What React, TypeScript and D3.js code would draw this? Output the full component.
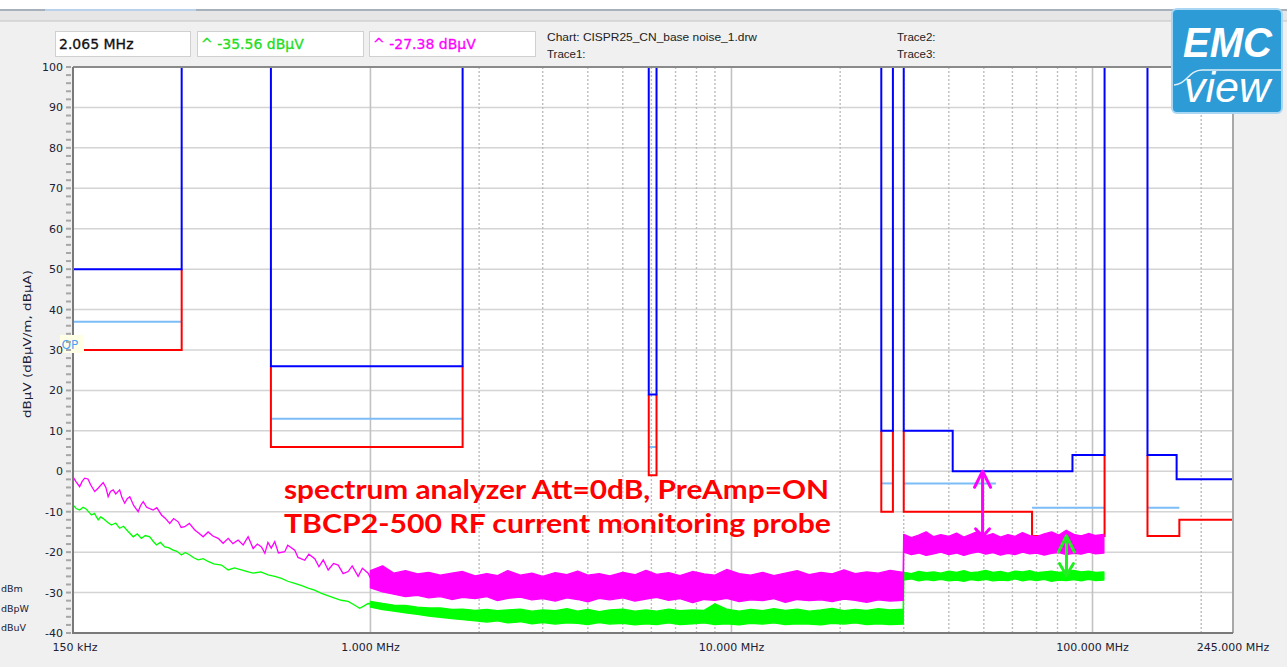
import React from "react";
import * as d3 from "d3";

// ---------------- data ----------------
const F_MIN = 0.15;
const F_MAX = 245;
const DB_MIN = -40;
const DB_MAX = 100;

const X_TICK_FREQS = [0.15, 1, 10, 100, 245];
const X_TICK_LABELS = ["150 kHz", "1.000 MHz", "10.000 MHz", "100.000 MHz", "245.000 MHz"];
const DECADE_FREQS = [1, 10, 100];
const MINOR_FREQS = [2, 3, 4, 5, 6, 7, 8, 9, 20, 30, 40, 50, 60, 70, 80, 90, 200];
const Y_TICKS = [100, 90, 80, 70, 60, 50, 40, 30, 20, 10, 0, -10, -20, -30, -40];
const UNIT_LABELS = ["dBm", "dBpW", "dBuV"];

type P = [number, number];
const PEAK_LIMIT: P[][] = [
  [[0.15, 50], [0.3, 50], [0.3, 100]],
  [[0.53, 100], [0.53, 26], [1.8, 26], [1.8, 100]],
  [[5.9, 100], [5.9, 19], [6.2, 19], [6.2, 100]],
  [[26, 100], [26, 10], [28, 10], [28, 100]],
  [[30, 100], [30, 10], [41, 10], [41, 0], [88, 0], [88, 4], [108, 4], [108, 100]],
  [[142, 100], [142, 4], [171, 4], [171, -2], [245, -2]],
];
const AVG_LIMIT: P[][] = [
  [[0.15, 30], [0.3, 30], [0.3, 50]],
  [[0.53, 26], [0.53, 6], [1.8, 6], [1.8, 26]],
  [[5.9, 19], [5.9, -1], [6.2, -1], [6.2, 19]],
  [[26, 10], [26, -10], [28, -10], [28, 10]],
  [[30, 10], [30, -10], [68, -10], [68, -16], [108, -16], [108, 4]],
  [[142, 4], [142, -16], [174, -16], [174, -12], [245, -12]],
];
const QP_LIMIT: P[][] = [
  [[0.15, 37], [0.3, 37]],
  [[0.53, 13], [1.8, 13]],
  [[5.9, 6], [6.2, 6]],
  [[26, -3], [28, -3]],
  [[30, -3], [54, -3]],
  [[68, -9], [108, -9]],
  [[142, -9], [174, -9]],
];

// low-frequency part of the traces (MHz, dBµV)
const MAG_LOW_F = [0.15, 0.153, 0.1565, 0.159, 0.1616, 0.165, 0.168, 0.1723, 0.176, 0.1818, 0.185, 0.1877, 0.1905, 0.1938, 0.197, 0.202, 0.205, 0.2086, 0.212, 0.2155, 0.221, 0.2273, 0.231, 0.2347, 0.24, 0.25, 0.256, 0.2637, 0.27, 0.278, 0.285, 0.2934, 0.299, 0.3059, 0.315, 0.3261, 0.335, 0.344, 0.3551, 0.366, 0.3786, 0.3908, 0.4035, 0.416, 0.43, 0.444, 0.4583, 0.4732, 0.486, 0.499, 0.51, 0.52, 0.531, 0.5431, 0.556, 0.5789, 0.59, 0.6171, 0.63, 0.6577, 0.675, 0.701, 0.72, 0.74, 0.7637, 0.79, 0.8139, 0.84, 0.8675, 0.89, 0.9245, 0.95, 0.9854, 1.01, 1.04];
const MAG_LOW_V = [-1.4, -2.6, -3.8, -2.5, -1.7, -1.9, -3.4, -5.0, -4.2, -2.8, -4.0, -6.3, -5.0, -4.6, -5.6, -4.6, -6.5, -7.9, -6.8, -6.3, -8.5, -10.0, -8.4, -7.5, -8.9, -9.6, -9.0, -10.8, -11.6, -12.9, -11.7, -12.5, -13.9, -13.7, -12.9, -14.5, -15.3, -16.2, -15.0, -16.0, -16.6, -17.8, -16.6, -17.9, -17.0, -18.2, -16.2, -19.1, -18.0, -18.7, -20.3, -17.6, -19.0, -17.4, -20.2, -19.9, -18.3, -19.5, -21.3, -22.0, -20.5, -21.6, -23.6, -21.9, -24.4, -22.8, -23.2, -25.3, -24.8, -23.4, -26.0, -24.0, -25.2, -27.2, -26.4];
const GRN_LOW_F = [0.15, 0.153, 0.1565, 0.16, 0.1634, 0.166, 0.1687, 0.172, 0.1761, 0.179, 0.1818, 0.187, 0.1917, 0.197, 0.202, 0.207, 0.2132, 0.2202, 0.226, 0.2321, 0.238, 0.2447, 0.25, 0.2554, 0.262, 0.2693, 0.276, 0.2841, 0.291, 0.2996, 0.307, 0.3158, 0.324, 0.3332, 0.344, 0.3551, 0.368, 0.3867, 0.395, 0.4035, 0.42, 0.4391, 0.456, 0.4732, 0.497, 0.5206, 0.543, 0.5669, 0.59, 0.6171, 0.645, 0.6722, 0.7, 0.7317, 0.765, 0.7965, 0.83, 0.8675, 0.9, 0.9341, 0.96, 0.9854, 1.02];
const GRN_LOW_V = [-8.3, -9.2, -9.6, -8.9, -9.4, -10.1, -10.8, -10.4, -12.0, -11.3, -11.7, -12.6, -13.3, -12.8, -14.1, -13.6, -14.9, -16.2, -15.5, -16.6, -15.9, -16.2, -17.3, -18.2, -17.6, -18.7, -18.9, -19.5, -19.8, -20.7, -20.1, -20.7, -21.4, -21.9, -21.6, -22.3, -22.9, -23.2, -23.8, -24.4, -23.9, -24.4, -24.8, -25.2, -24.9, -25.6, -26.0, -26.5, -27.2, -27.7, -28.3, -28.9, -29.4, -30.2, -30.8, -31.4, -31.9, -32.2, -33.0, -33.9, -33.3, -32.7, -32.9];

// noisy part of the traces: envelope (upper / lower)
const BAND_F_1 = [1.0, 1.08, 1.16, 1.25, 1.35, 1.45, 1.56, 1.68, 1.8, 1.95, 2.1, 2.25, 2.4, 2.6, 2.8, 3.0, 3.25, 3.5, 3.75, 4.0, 4.3, 4.6, 5.0, 5.4, 5.8, 6.2, 6.7, 7.2, 7.8, 8.4, 9.0, 9.7, 10.5, 11.3, 12.2, 13.1, 14.1, 15.2, 16.4, 17.7, 19.0, 20.5, 22.0, 23.7, 25.5, 27.5, 29.9];
const MAG_HI_1 = [-24.6, -23.4, -25.2, -24.6, -25.4, -25.0, -25.7, -25.2, -24.8, -25.9, -25.3, -25.8, -24.6, -25.7, -25.2, -26.0, -25.1, -25.6, -24.7, -25.7, -25.3, -25.9, -25.0, -25.6, -24.5, -25.5, -25.1, -25.8, -24.8, -25.4, -25.7, -24.3, -25.3, -25.7, -25.0, -25.8, -25.2, -24.6, -25.6, -25.0, -25.4, -24.4, -25.3, -24.9, -25.2, -24.5, -25.0];
const MAG_LO_1 = [-28.8, -29.8, -30.4, -31.0, -30.7, -31.3, -31.0, -31.7, -31.2, -31.5, -31.0, -32.0, -31.4, -31.1, -31.8, -31.5, -32.1, -31.3, -31.7, -32.3, -31.4, -31.8, -31.3, -32.1, -31.6, -31.2, -31.9, -31.5, -32.5, -31.7, -31.9, -31.4, -32.2, -31.8, -32.0, -31.5, -32.4, -31.7, -32.0, -31.8, -32.2, -31.6, -31.9, -32.4, -31.8, -32.1, -31.9];
const GRN_HI_1 = [-32.2, -32.7, -33.1, -33.2, -33.6, -33.8, -33.8, -34.2, -34.1, -34.4, -34.2, -34.5, -34.3, -34.1, -34.6, -34.3, -34.5, -34.0, -34.6, -34.2, -34.7, -34.3, -34.1, -34.6, -34.3, -34.6, -34.1, -34.5, -34.3, -34.4, -32.8, -34.1, -34.6, -34.2, -34.5, -34.0, -34.4, -34.1, -34.6, -34.3, -33.9, -34.5, -34.2, -34.4, -34.0, -34.3, -34.1];
const GRN_LO_1 = [-33.6, -34.2, -34.6, -35.0, -35.4, -35.8, -36.1, -36.4, -36.7, -37.0, -37.3, -37.0, -37.5, -37.2, -37.7, -37.4, -37.8, -37.5, -37.6, -37.9, -37.4, -37.8, -37.6, -38.0, -37.7, -37.9, -37.5, -37.9, -37.7, -37.5, -37.9, -37.7, -38.0, -37.6, -37.8, -37.5, -37.9, -37.7, -37.8, -38.0, -37.6, -37.8, -37.5, -37.9, -37.7, -37.9, -37.8];

const BAND_F_2 = [30.0, 31.5, 33.0, 34.6, 36.3, 38.0, 40.0, 42.0, 44.0, 46.0, 48.3, 50.6, 53.0, 55.6, 58.3, 61.0, 64.0, 67.0, 70.0, 73.5, 77.0, 80.7, 84.6, 88.7, 93.0, 97.5, 102.0, 107.5];
const MAG_HI_2 = [-15.6, -16.4, -15.8, -15.0, -16.2, -15.7, -16.1, -15.3, -16.3, -15.6, -14.8, -16.0, -15.4, -16.3, -15.7, -16.1, -15.2, -15.9, -16.2, -15.5, -15.0, -15.8, -14.6, -15.6, -16.0, -15.4, -15.9, -15.6];
const MAG_LO_2 = [-20.0, -20.6, -20.2, -20.8, -20.4, -20.0, -20.6, -20.2, -20.8, -20.3, -19.9, -20.5, -20.1, -20.7, -20.3, -20.6, -20.0, -20.4, -20.2, -20.7, -20.3, -20.1, -20.6, -20.3, -20.5, -20.0, -20.4, -20.2];
const GRN_HI_2 = [-25.0, -25.3, -24.8, -25.1, -24.9, -25.2, -24.7, -25.0, -24.6, -25.1, -24.9, -24.5, -25.0, -24.8, -25.2, -24.7, -24.9, -24.6, -25.1, -24.9, -24.7, -25.0, -24.8, -24.5, -24.9, -24.7, -25.0, -24.9];
const GRN_LO_2 = [-26.9, -26.6, -27.1, -26.8, -27.0, -26.7, -27.1, -26.9, -27.2, -26.8, -27.0, -26.7, -27.1, -26.9, -27.0, -26.6, -27.1, -26.8, -27.0, -26.7, -27.2, -26.9, -27.0, -26.8, -27.1, -26.7, -27.0, -26.9];

// margin arrows (MHz, top dB, bottom dB)
const MAG_ARROW = { f: 49.6, top: 0, bottom: -16.2 };
const GRN_ARROW = { f: 84.7, top: -16, bottom: -25.8 };

const MARKER_FREQ_TEXT = "2.065 MHz";
const MARKER_GREEN_TEXT = "^ -35.56 dBµV";
const MARKER_MAGENTA_TEXT = "^ -27.38 dBµV";
const NOTE_LINES = ["spectrum analyzer Att=0dB, PreAmp=ON", "TBCP2-500 RF current monitoring probe"];

// ---------------- layout / style ----------------
const W = 1287;
const H = 667;
const PL = { left: 73, right: 1233, top: 67, bottom: 633 };
const UI_FONT = "'DejaVu Sans', Verdana, sans-serif";
const C_BLUE = "#0000ff";
const C_RED = "#ff0000";
const C_QP = "#7dbdf7";
const C_MAG = "#ff00ff";
const C_GRN = "#00ff00";

export default function App() {
  const x = d3.scaleLog().domain([F_MIN, F_MAX]).range([PL.left, PL.right]);
  const y = d3.scaleLinear().domain([DB_MIN, DB_MAX]).range([PL.bottom, PL.top]);
  const line = d3.line<P>().x((d) => x(d[0])).y((d) => y(d[1]));
  const area = d3
    .area<{ f: number; hi: number; lo: number }>()
    .x((d) => x(d.f))
    .y0((d) => y(d.lo))
    .y1((d) => y(d.hi));

  const zip = (fs: number[], vs: number[]): P[] => fs.map((f, i) => [f, vs[i]]);
  const band = (fs: number[], his: number[], los: number[]) =>
    fs.map((f, i) => ({ f, hi: his[i], lo: los[i] }));

  const magBand = band(BAND_F_1, MAG_HI_1, MAG_LO_1).concat(band(BAND_F_2, MAG_HI_2, MAG_LO_2));
  const grnBand = band(BAND_F_1, GRN_HI_1, GRN_LO_1).concat(band(BAND_F_2, GRN_HI_2, GRN_LO_2));

  const minorY = d3.range(DB_MIN, DB_MAX + 1, 2);

  const arrow = (a: { f: number; top: number; bottom: number }, color: string, topLen: number, botLen: number) => {
    const ax = x(a.f);
    const t = y(a.top);
    const b = y(a.bottom);
    return (
      <g stroke={color} strokeWidth={3} fill="none" strokeLinecap="round" strokeLinejoin="round">
        <path d={`M${ax},${t} L${ax},${b}`} />
        <path d={`M${ax - 8},${t + topLen} L${ax},${t} L${ax + 8},${t + topLen}`} />
        <path d={`M${ax - 7},${b - botLen} L${ax},${b} L${ax + 7},${b - botLen}`} />
      </g>
    );
  };

  return (
    <svg
      width={W}
      height={H}
      viewBox={`0 0 ${W} ${H}`}
      style={{ position: "absolute", left: 0, top: 0, display: "block" }}
    >
      <defs>
        <clipPath id="plotClip">
          <rect x={PL.left} y={PL.top} width={PL.right - PL.left} height={PL.bottom - PL.top} />
        </clipPath>
      </defs>
      {/* window background */}
      <rect x={0} y={0} width={W} height={H} fill="#f0f0f0" />
      <rect x={0} y={0} width={W} height={9} fill="#ffffff" />
      <rect x={0} y={9} width={W} height={12} fill="#e6e6e6" />
      <line x1={0} x2={W} y1={10} y2={10} stroke="#a7b1bc" strokeWidth={2} />
      <line x1={45} x2={196} y1={10} y2={10} stroke="#b9d1ea" strokeWidth={2} />
      <line x1={0} x2={W} y1={21} y2={21} stroke="#c4c4c4" strokeWidth={1} />

      {/* header boxes */}
      <rect x={55.5} y={31.5} width={135} height={25} fill="#fff" stroke="#d0d0d0" />
      <rect x={197.5} y={31.5} width={166} height={25} fill="#fff" stroke="#d0d0d0" />
      <rect x={369.5} y={31.5} width={166} height={25} fill="#fff" stroke="#d0d0d0" />
      <text x={59} y={49} fontFamily={UI_FONT} fontSize={14} fill="#111" stroke="#111" strokeWidth={0.3}>{MARKER_FREQ_TEXT}</text>
      <text x={201} y={49} fontFamily={UI_FONT} fontSize={14} fill="#22dd22" stroke="#22dd22" strokeWidth={0.3}>{MARKER_GREEN_TEXT}</text>
      <text x={373} y={49} fontFamily={UI_FONT} fontSize={14} fill={C_MAG} stroke={C_MAG} strokeWidth={0.3}>{MARKER_MAGENTA_TEXT}</text>
      <g fontFamily="'Liberation Sans', Arial, sans-serif" fontSize={11.5} fill="#222">
        <text x={547} y={41} textLength={210} lengthAdjust="spacingAndGlyphs">Chart: CISPR25_CN_base noise_1.drw</text>
        <text x={547} y={58}>Trace1:</text>
        <text x={897} y={41}>Trace2:</text>
        <text x={897} y={58}>Trace3:</text>
      </g>

      {/* plot area */}
      <rect x={PL.left} y={PL.top} width={PL.right - PL.left} height={PL.bottom - PL.top} fill="#ffffff" />

      {/* grid */}
      <g>
        {Y_TICKS.map((v) => (
          <line key={"hg" + v} x1={PL.left} x2={PL.right} y1={y(v)} y2={y(v)} stroke="#d4d4d4" strokeWidth={1.5} />
        ))}
        {MINOR_FREQS.map((f) => (
          <line key={"vm" + f} x1={x(f)} x2={x(f)} y1={PL.top} y2={PL.bottom} stroke="#bdbdbd" strokeWidth={1.4} strokeDasharray="2 2" />
        ))}
        {DECADE_FREQS.map((f) => (
          <line key={"vd" + f} x1={x(f)} x2={x(f)} y1={PL.top} y2={PL.bottom} stroke="#c2c2c2" strokeWidth={1.6} />
        ))}
      </g>

      {/* limit lines and traces */}
      <g clipPath="url(#plotClip)" fill="none" strokeLinejoin="miter">
        {QP_LIMIT.map((s, i) => (
          <path key={"qp" + i} d={line(s) || ""} stroke={C_QP} strokeWidth={2} />
        ))}
        {AVG_LIMIT.map((s, i) => (
          <path key={"av" + i} d={line(s) || ""} stroke={C_RED} strokeWidth={2} />
        ))}
        {PEAK_LIMIT.map((s, i) => (
          <path key={"pk" + i} d={line(s) || ""} stroke={C_BLUE} strokeWidth={2} />
        ))}

        <path d={line(zip(GRN_LOW_F, GRN_LOW_V)) || ""} stroke={C_GRN} strokeWidth={1.3} />
        <path d={area(grnBand) || ""} fill={C_GRN} stroke={C_GRN} strokeWidth={1.4} strokeLinejoin="round" />
        <path d={line(zip(MAG_LOW_F, MAG_LOW_V)) || ""} stroke={C_MAG} strokeWidth={1.3} />
        <path d={area(magBand) || ""} fill={C_MAG} stroke={C_MAG} strokeWidth={1.4} strokeLinejoin="round" />
      </g>

      {/* arrows */}
      {arrow(MAG_ARROW, C_MAG, 16, 8)}
      {arrow(GRN_ARROW, "#22ee22", 16, 12)}

      {/* annotation */}
      <g fontFamily="Lato, 'Open Sans', sans-serif" fontWeight={700} fontSize={27} fill={C_RED}>
        <text x={284} y={499} textLength={545} lengthAdjust="spacingAndGlyphs">{NOTE_LINES[0]}</text>
        <text x={284} y={533} textLength={547} lengthAdjust="spacingAndGlyphs">{NOTE_LINES[1]}</text>
      </g>

      {/* frame */}
      <line x1={PL.left} x2={PL.right} y1={PL.top} y2={PL.top} stroke="#8a8a8a" strokeWidth={2} />
      <line x1={PL.right} x2={PL.right} y1={PL.top} y2={PL.bottom} stroke="#a8a8a8" strokeWidth={2} />
      <line x1={PL.left} x2={PL.left} y1={PL.top} y2={PL.bottom + 1} stroke="#7a7a7a" strokeWidth={2} />
      <line x1={PL.left} x2={PL.right} y1={PL.bottom} y2={PL.bottom} stroke="#7a7a7a" strokeWidth={2} />

      {/* QP label (drawn over the axis line) */}
      <rect x={60} y={335} width={24} height={18} fill="#ffffe6" />
      <text x={61.5} y={349} fontFamily={UI_FONT} fontSize={12} fill="#4aa3f5">QP</text>

      {/* y axis */}
      <g>
        {minorY.map((v) => (
          <line key={"yt" + v} x1={66} x2={71} y1={y(v)} y2={y(v)} stroke="#a6a6a6" strokeWidth={2} />
        ))}
        {Y_TICKS.map((v) => (
          <text key={"yl" + v} x={63} y={y(v)} dy="0.36em" textAnchor="end" fontFamily={UI_FONT} fontSize={11} fill="#202034">
            {v}
          </text>
        ))}
      </g>
      <text
        transform="translate(31,344) rotate(-90)"
        textAnchor="middle"
        fontFamily={UI_FONT}
        fontSize={11}
        fill="#202034"
        textLength={148}
        lengthAdjust="spacingAndGlyphs"
      >
        dBµV  (dBµV/m, dBµA)
      </text>
      <g fontFamily={UI_FONT} fontSize={9.5} fill="#202034">
        {UNIT_LABELS.map((t, i) => (
          <text key={t} x={1} y={592 + i * 19.5}>{t}</text>
        ))}
      </g>

      {/* x axis labels */}
      <g fontFamily={UI_FONT} fontSize={11} fill="#202034">
        {X_TICK_FREQS.map((f, i) => (
          <text key={"xl" + f} x={x(f) + (i === 0 ? 2 : 0)} y={651} textAnchor="middle">
            {X_TICK_LABELS[i]}
          </text>
        ))}
      </g>

      {/* EMC view logo */}
      <g>
        <rect x={1172} y={9} width={110} height={104} rx={5} fill="#2d9bd6" stroke="#a9d6f2" strokeWidth={2} />
        <text x={1183} y={57} fontFamily="'Liberation Sans', Arial, sans-serif" fontWeight={700} fontStyle="italic" fontSize={42} fill="#fff" textLength={89} lengthAdjust="spacingAndGlyphs">EMC</text>
        <path d="M1174,85 C1186,85 1189,70 1202,70 L1281,70" stroke="#ffffff" strokeOpacity={0.85} strokeWidth={1.5} fill="none" />
        <text x={1184} y={102} fontFamily="'Liberation Sans', Arial, sans-serif" fontStyle="italic" fontSize={42} fill="#fff" textLength={86} lengthAdjust="spacingAndGlyphs">view</text>
      </g>
    </svg>
  );
}
